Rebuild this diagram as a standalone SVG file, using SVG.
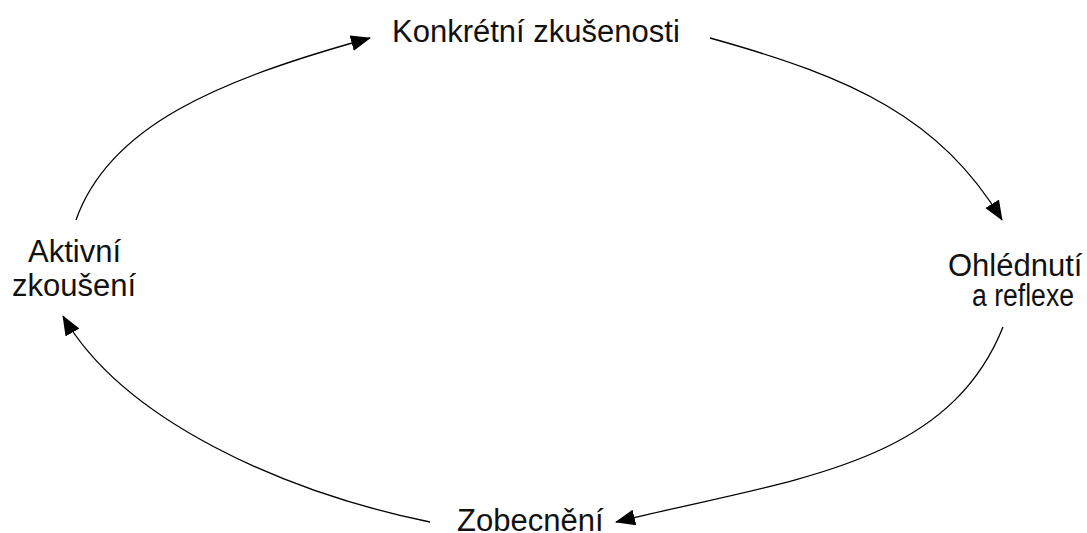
<svg xmlns="http://www.w3.org/2000/svg" width="1087" height="533" viewBox="0 0 1087 533">
<style>
.lbl{font-family:"Liberation Sans",Arial,sans-serif;font-size:31px;fill:#111}
.arc{fill:none;stroke:#000;stroke-width:1.3}
</style>
<defs>
<marker id="ah" markerUnits="userSpaceOnUse" markerWidth="22" markerHeight="18" refX="19" refY="8" orient="auto">
<path d="M0,0 L20,8 L0,16 Z" fill="#000"/>
</marker>
</defs>
<rect width="1087" height="533" fill="#fff"/>
<g id="connectors">
<path class="arc" d="M76,220 C109,126 218,80 370,38" marker-end="url(#ah)"/>
<path class="arc" d="M710,38 C854,78 940,118 1002,220" marker-end="url(#ah)"/>
<path class="arc" d="M1003,327 C947,467 791,479 616,522" marker-end="url(#ah)"/>
<path class="arc" d="M430,522 C283,492 123,420 63,316" marker-end="url(#ah)"/>
</g>
<g id="n-konkretni"><text class="lbl" x="392" y="42">Konkrétní zkušenosti</text></g>
<g id="n-ohlednuti"><text class="lbl" x="948" y="276">Ohlédnutí</text><text class="lbl" x="972" y="306" textLength="102" lengthAdjust="spacingAndGlyphs">a reflexe</text></g>
<g id="n-zobecneni"><text class="lbl" x="457" y="531">Zobecnění</text></g>
<g id="n-aktivni"><text class="lbl" x="28" y="262">Aktivní</text><text class="lbl" x="12" y="296">zkoušení</text></g>
</svg>
